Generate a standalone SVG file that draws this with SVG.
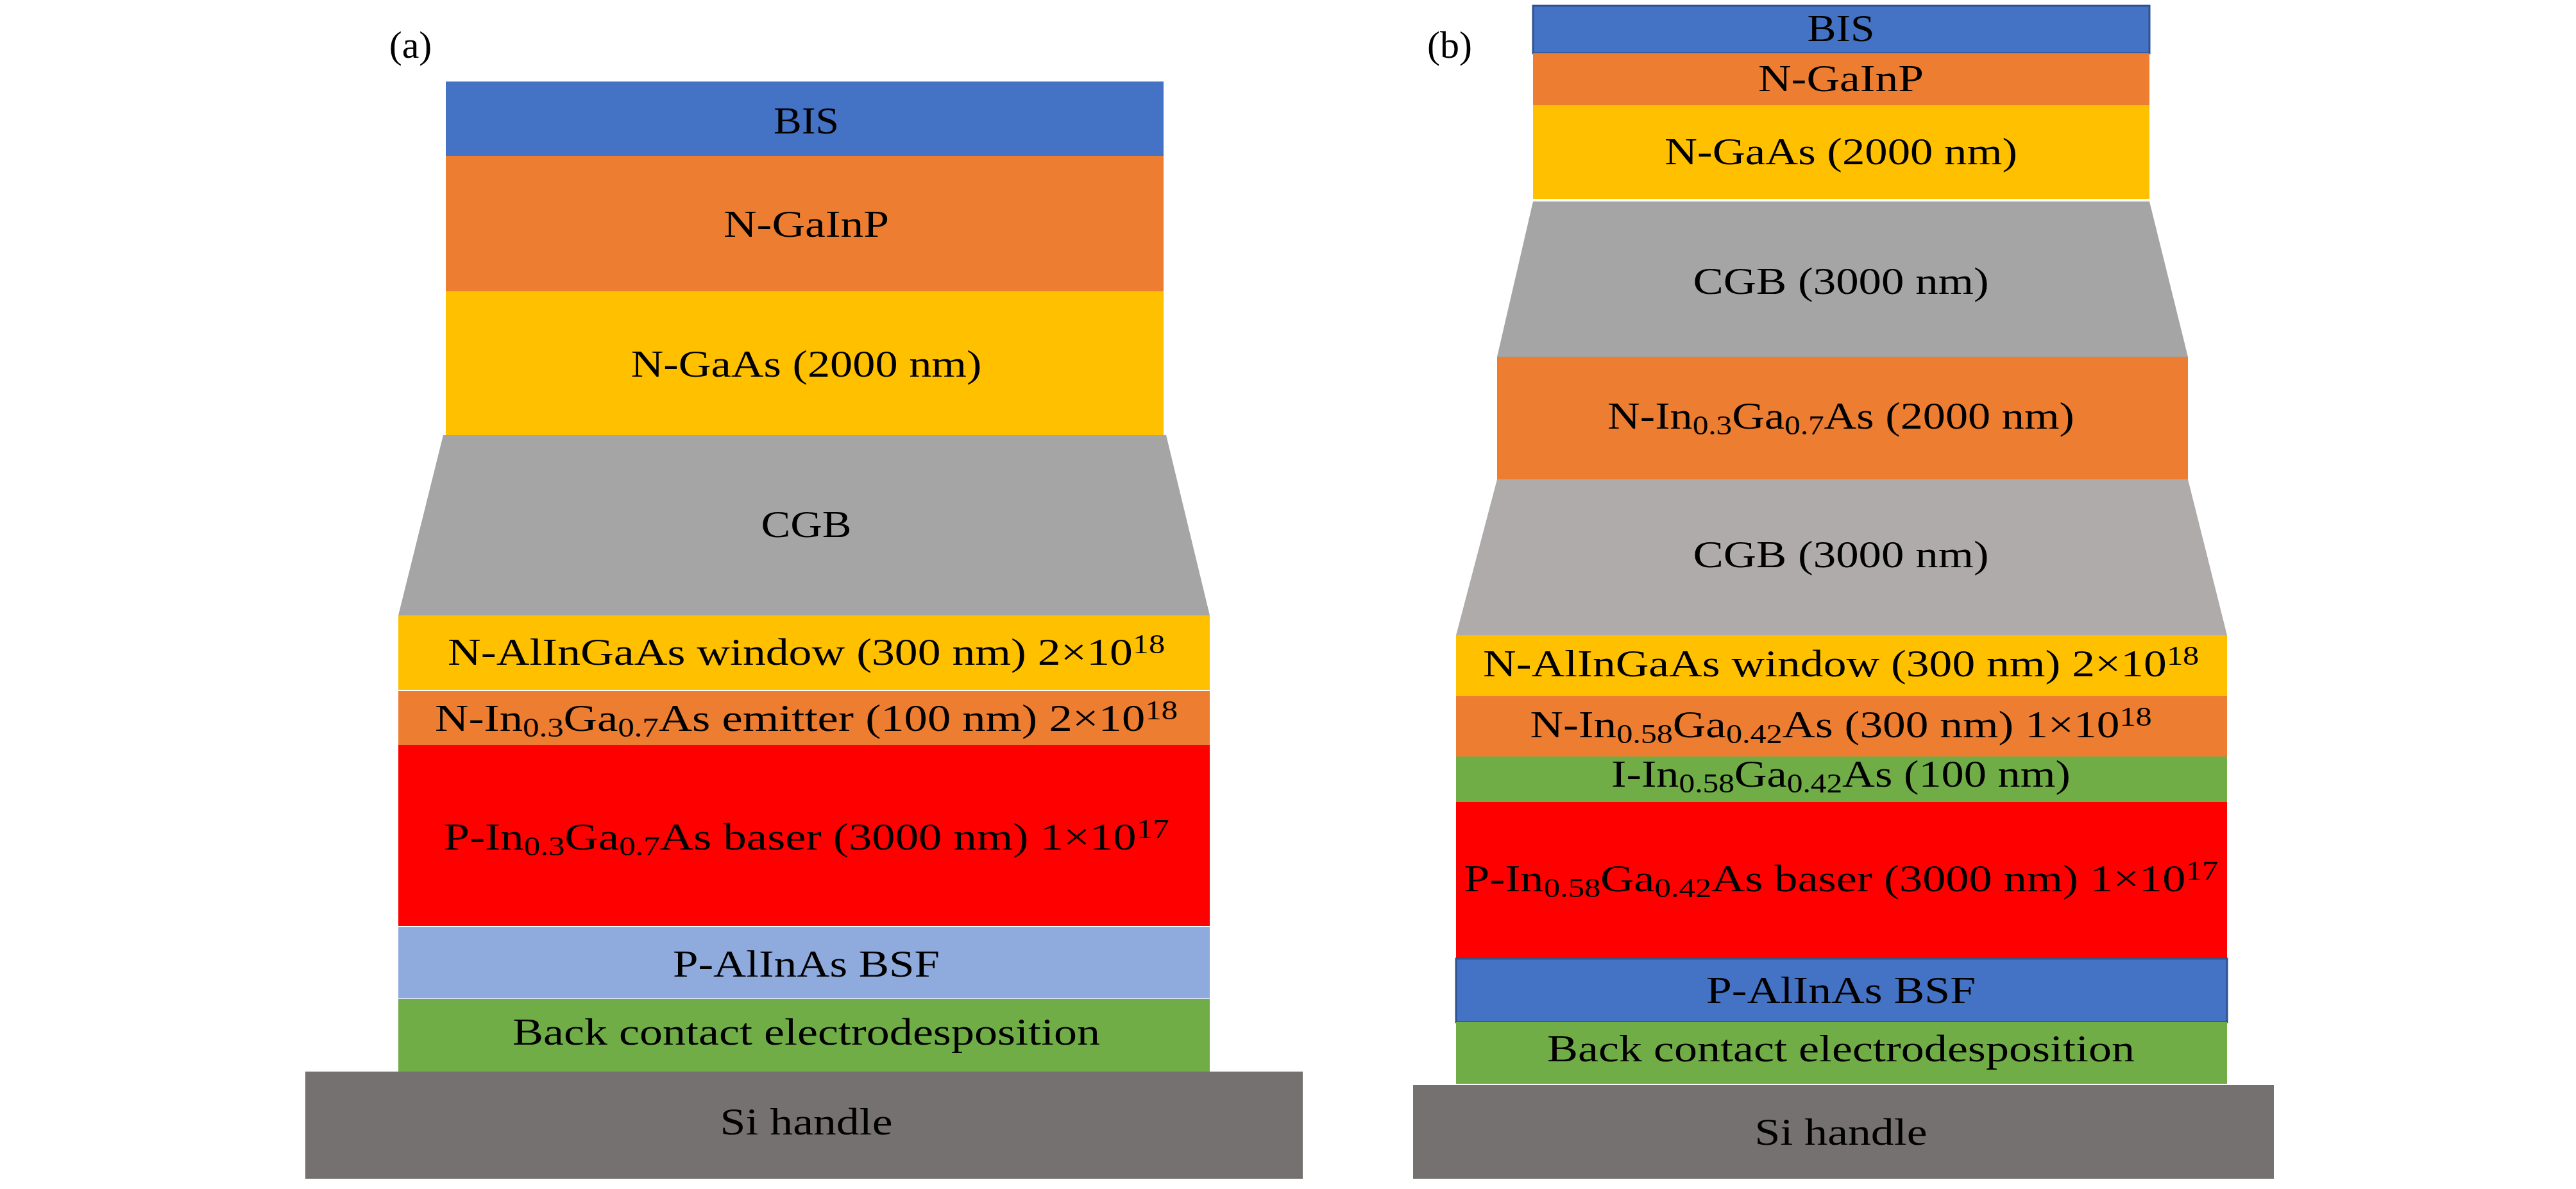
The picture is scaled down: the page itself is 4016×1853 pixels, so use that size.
<svg xmlns="http://www.w3.org/2000/svg" width="4016" height="1853" viewBox="0 0 4016 1853">
<style>
text{font-family:"Liberation Serif","Times New Roman",serif;font-size:60px;fill:#000;text-anchor:middle}
.sub{font-size:42px}
.sup{font-size:42px}
.blue{fill:#4472C4}
.orange{fill:#ED7D31}
.yellow{fill:#FFC000}
.gray{fill:#A5A5A5}
.gray2{fill:#AFABAB}
.red{fill:#FF0000}
.lblue{fill:#8FAADC}
.green{fill:#70AD47}
.si{fill:#767171}
.bord{stroke:#2F528F;stroke-width:3}
</style>
<rect width="4016" height="1853" fill="#fff"/>
<g id="panel-a">
<text id="label-a" x="640" y="90">(a)</text>
<g id="a-bis"><rect class="blue" x="695" y="127" width="1119" height="116"/><text x="1257" y="208" textLength="102" lengthAdjust="spacingAndGlyphs">BIS</text></g>
<g id="a-gainp"><rect class="orange" x="695" y="243" width="1119" height="211"/><text x="1257" y="369" textLength="258" lengthAdjust="spacingAndGlyphs">N-GaInP</text></g>
<g id="a-gaas"><rect class="yellow" x="695" y="454" width="1119" height="224"/><text x="1257" y="587" textLength="547" lengthAdjust="spacingAndGlyphs">N-GaAs (2000 nm)</text></g>
<g id="a-cgb"><polygon class="gray" points="691,678 1818,678 1886,959 621,959"/><text x="1257" y="837" textLength="141" lengthAdjust="spacingAndGlyphs">CGB</text></g>
<g id="a-window"><rect class="yellow" x="621" y="959" width="1265" height="116"/><text x="1257" y="1036" textLength="1118" lengthAdjust="spacingAndGlyphs">N-AlInGaAs window (300 nm) 2×10<tspan class="sup" dy="-18">18</tspan></text></g>
<g id="a-emitter"><rect class="orange" x="621" y="1077" width="1265" height="84"/><text x="1257" y="1139" textLength="1158" lengthAdjust="spacingAndGlyphs">N-In<tspan class="sub" dy="9">0.3</tspan><tspan dy="-9">Ga</tspan><tspan class="sub" dy="9">0.7</tspan><tspan dy="-9">As emitter (100 nm) 2×10</tspan><tspan class="sup" dy="-18">18</tspan></text></g>
<g id="a-base"><rect class="red" x="621" y="1161" width="1265" height="282"/><text x="1257" y="1324" textLength="1131" lengthAdjust="spacingAndGlyphs">P-In<tspan class="sub" dy="9">0.3</tspan><tspan dy="-9">Ga</tspan><tspan class="sub" dy="9">0.7</tspan><tspan dy="-9">As baser (3000 nm) 1×10</tspan><tspan class="sup" dy="-18">17</tspan></text></g>
<g id="a-bsf"><rect class="lblue" x="621" y="1445" width="1265" height="111"/><text x="1257" y="1522" textLength="416" lengthAdjust="spacingAndGlyphs">P-AlInAs BSF</text></g>
<g id="a-back"><rect class="green" x="621" y="1557" width="1265" height="113"/><text x="1257" y="1628" textLength="916" lengthAdjust="spacingAndGlyphs">Back contact electrodesposition</text></g>
<g id="a-si"><rect class="si" x="476" y="1670" width="1555" height="167"/><text x="1257" y="1768" textLength="269" lengthAdjust="spacingAndGlyphs">Si handle</text></g>
</g>
<g id="panel-b">
<text id="label-b" x="2260" y="90">(b)</text>
<g id="b-bis"><rect class="blue bord" x="2390" y="9" width="961" height="74"/><text x="2870" y="64" textLength="105" lengthAdjust="spacingAndGlyphs">BIS</text></g>
<g id="b-gainp"><rect class="orange" x="2390" y="83" width="961" height="81"/><text x="2870" y="142" textLength="258" lengthAdjust="spacingAndGlyphs">N-GaInP</text></g>
<g id="b-gaas"><rect class="yellow" x="2390" y="164" width="961" height="146"/><text x="2870" y="256" textLength="550" lengthAdjust="spacingAndGlyphs">N-GaAs (2000 nm)</text></g>
<g id="b-cgb1"><polygon class="gray" points="2390,314 3351,314 3411,556 2334,556"/><text x="2870" y="458" textLength="461" lengthAdjust="spacingAndGlyphs">CGB (3000 nm)</text></g>
<g id="b-ingaas"><rect class="orange" x="2334" y="556" width="1077" height="191"/><text x="2870" y="668" textLength="728" lengthAdjust="spacingAndGlyphs">N-In<tspan class="sub" dy="9">0.3</tspan><tspan dy="-9">Ga</tspan><tspan class="sub" dy="9">0.7</tspan><tspan dy="-9">As (2000 nm)</tspan></text></g>
<g id="b-cgb2"><polygon class="gray2" points="2334,747 3411,747 3472,990 2270,990"/><text x="2870" y="884" textLength="461" lengthAdjust="spacingAndGlyphs">CGB (3000 nm)</text></g>
<g id="b-window"><rect class="yellow" x="2270" y="990" width="1202" height="95"/><text x="2870" y="1054" textLength="1116" lengthAdjust="spacingAndGlyphs">N-AlInGaAs window (300 nm) 2×10<tspan class="sup" dy="-18">18</tspan></text></g>
<g id="b-n"><rect class="orange" x="2270" y="1085" width="1202" height="94"/><text x="2870" y="1149" textLength="969" lengthAdjust="spacingAndGlyphs">N-In<tspan class="sub" dy="9">0.58</tspan><tspan dy="-9">Ga</tspan><tspan class="sub" dy="9">0.42</tspan><tspan dy="-9">As (300 nm) 1×10</tspan><tspan class="sup" dy="-18">18</tspan></text></g>
<g id="b-i"><rect class="green" x="2270" y="1179" width="1202" height="71"/><text x="2870" y="1226" textLength="716" lengthAdjust="spacingAndGlyphs">I-In<tspan class="sub" dy="9">0.58</tspan><tspan dy="-9">Ga</tspan><tspan class="sub" dy="9">0.42</tspan><tspan dy="-9">As (100 nm)</tspan></text></g>
<g id="b-base"><rect class="red" x="2270" y="1250" width="1202" height="244"/><text x="2870" y="1389" textLength="1176" lengthAdjust="spacingAndGlyphs">P-In<tspan class="sub" dy="9">0.58</tspan><tspan dy="-9">Ga</tspan><tspan class="sub" dy="9">0.42</tspan><tspan dy="-9">As baser (3000 nm) 1×10</tspan><tspan class="sup" dy="-18">17</tspan></text></g>
<g id="b-bsf"><rect class="blue bord" x="2270" y="1494" width="1202" height="99"/><text x="2870" y="1563" textLength="420" lengthAdjust="spacingAndGlyphs">P-AlInAs BSF</text></g>
<g id="b-back"><rect class="green" x="2270" y="1593" width="1202" height="96"/><text x="2870" y="1654" textLength="916" lengthAdjust="spacingAndGlyphs">Back contact electrodesposition</text></g>
<g id="b-si"><rect class="si" x="2203" y="1691" width="1342" height="146"/><text x="2870" y="1784" textLength="269" lengthAdjust="spacingAndGlyphs">Si handle</text></g>
</g>
</svg>
